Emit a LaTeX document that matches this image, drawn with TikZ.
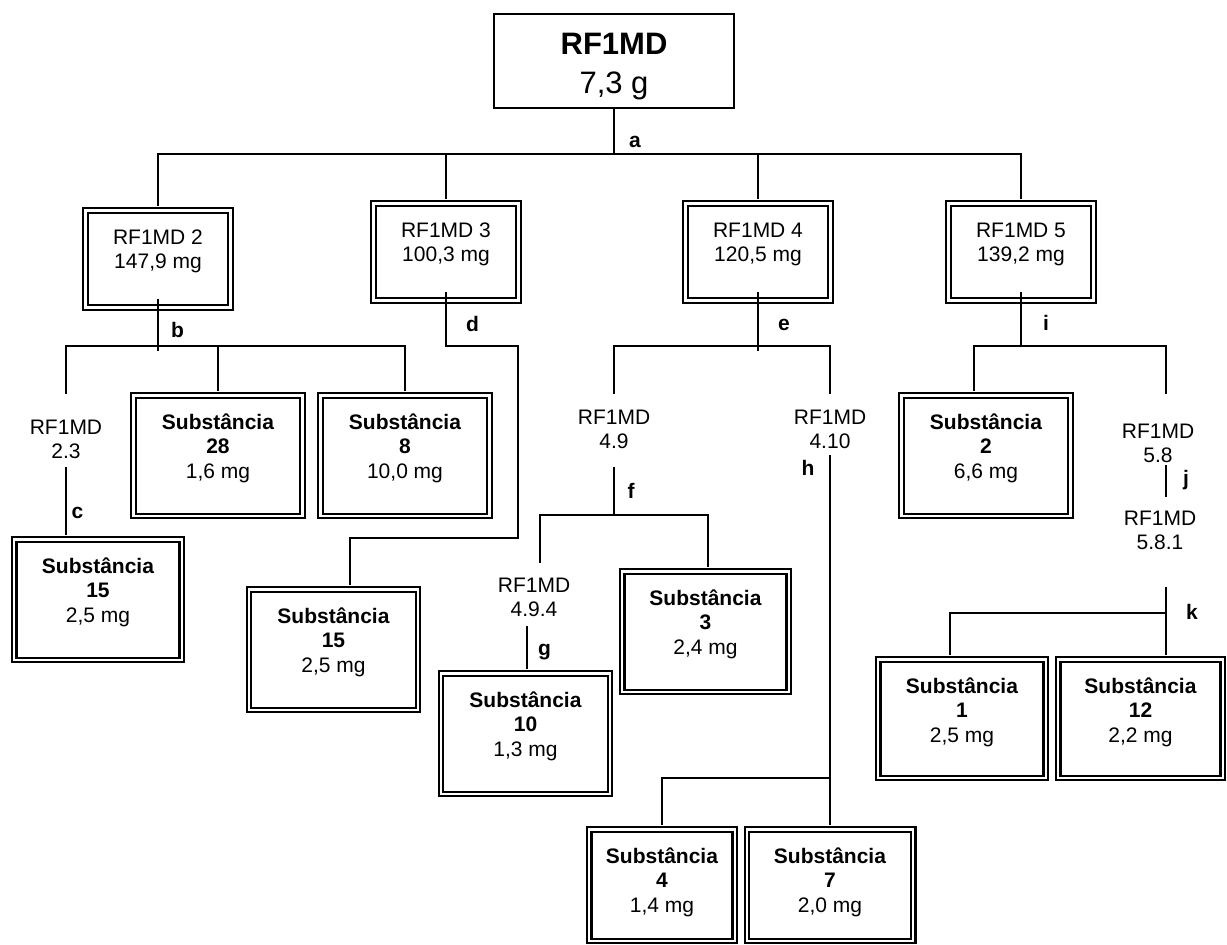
\documentclass[tikz,border=0pt]{standalone}
\usepackage{fontspec}
\setmainfont{Liberation Sans}
\usetikzlibrary{positioning}

\newcommand{\subst}[2]{\textbf{Substância}\\\textbf{#1}\\#2}

\begin{document}
\begin{tikzpicture}[x=1pt, y=-1pt]
		\tikzstyle{every node}=[font=\fontsize{21}{24.5}\selectfont]
		\tikzstyle{rootbox}=[draw, line width=2, inner sep=0, align=center, minimum width=240, text height=79, text depth=15, font=\fontsize{31}{39}\selectfont]
		\tikzstyle{dbox}=[draw, line width=2.2, double, double distance=2.2, inner sep=0, align=center, anchor=north]
		\tikzstyle{rbox}=[dbox, minimum width=145, text height=58.5, text depth=38.5]
		\tikzstyle{sbox}=[dbox, minimum width=169, text height=83, text depth=37.4]
		\tikzstyle{subfr}=[inner sep=0, align=center, anchor=base]
		\tikzstyle{lbl}=[inner sep=0, anchor=base, font=\fontsize{21}{24.5}\selectfont\bfseries]
		\tikzstyle{connect}=[line width=2]
		\tikzstyle{tobox}=[shorten >=3.3]
		\useasboundingbox (0,0) rectangle (1227,945);
		
		\node[rootbox, anchor=north] (root) at (614,13) {\textbf{RF1MD}\\7,3 g};
		
		\node[rbox] (rf2) at (158,209.3) {RF1MD 2\\147,9 mg};
		\node[rbox] (rf3) at (446,202.3) {RF1MD 3\\100,3 mg};
		\node[rbox] (rf4) at (758,202.3) {RF1MD 4\\120,5 mg};
		\node[rbox] (rf5) at (1021,202.3) {RF1MD 5\\139,2 mg};
		
		\node[subfr] (t23) at (66,458.5) {RF1MD\\2.3};
		\node[subfr] (t49) at (614,448.5) {RF1MD\\4.9};
		\node[subfr] (t410) at (830,448.5) {RF1MD\\4.10};
		\node[subfr] (t494) at (534,616.5) {RF1MD\\4.9.4};
		\node[subfr] (t58) at (1158,462.5) {RF1MD\\5.8};
		\node[subfr] (t581) at (1160,549.5) {RF1MD\\5.8.1};
		
		\node[sbox] (s28) at (218,394.3) {\subst{28}{1,6 mg}};
		\node[sbox] (s8) at (405,394.3) {\subst{8}{10,0 mg}};
		\node[sbox, minimum width=167.4] (s15a) at (98,538.3) {\subst{15}{2,5 mg}};
		\node[sbox] (s15b) at (333.5,588.3) {\subst{15}{2,5 mg}};
		\node[sbox] (s10) at (525.5,672.3) {\subst{10}{1,3 mg}};
		\node[sbox, minimum width=166.4] (s3) at (705.5,570.3) {\subst{3}{2,4 mg}};
		\node[sbox, minimum width=145.4, text depth=28.4] (s4) at (662,828.3) {\subst{4}{1,4 mg}};
		\node[sbox, minimum width=166.4, text depth=28.4] (s7) at (830,828.3) {\subst{7}{2,0 mg}};
		\node[sbox] (s2) at (986,394.3) {\subst{2}{6,6 mg}};
		\node[sbox, minimum width=167.4, text depth=35.4] (s1) at (962,658.3) {\subst{1}{2,5 mg}};
		\node[sbox, minimum width=164.4, text depth=35.4] (s12) at (1140.5,658.3) {\subst{12}{2,2 mg}};
		
		% step labels
		\node[lbl] (la) at (635,147) {a};
		\node[lbl] (lb) at (177.5,337) {b};
		\node[lbl] (lc) at (77.5,518) {c};
		\node[lbl] (ld) at (472.5,331) {d};
		\node[lbl] (le) at (784,330) {e};
		\node[lbl] (lf) at (631,498) {f};
		\node[lbl] (lg) at (544.5,655) {g};
		\node[lbl] (lh) at (808,475) {h};
		\node[lbl] (li) at (1046,330) {i};
		\node[lbl] (lj) at (1186,485) {j};
		\node[lbl] (lk) at (1192,619) {k};
		
		% a
		\coordinate (ja) at (614,154);
		\draw[connect] (root) -- (ja);
		\foreach \n in {rf2,rf3,rf4,rf5}
			\draw[connect, tobox] (ja) -| (\n);
		
		% b, c
		\coordinate (jb) at (158,346);
		\draw[connect] ([yshift=10]rf2.south) -- ([yshift=-5]jb);
		\draw[connect, shorten >=25] (jb) -| (t23);
		\draw[connect, tobox] (jb) -| (s28);
		\draw[connect, tobox] (jb) -| (s8);
		\draw[connect, shorten <=8, tobox] (t23.south) -- (t23.south |- s15a.north);
		
		% d
		\coordinate (jd1) at (518,346);
		\coordinate (jd2) at (518,538);
		\draw[connect, tobox] ([yshift=10]rf3.south) |- (jd1) -- (jd2) -| ([xshift=16.5]s15b.north);
		
		% e, f, g, h
		\coordinate (je) at (758,346);
		\draw[connect] ([yshift=10]rf4.south) -- ([yshift=-5]je);
		\draw[connect, shorten >=15] (je) -| (t49);
		\draw[connect, shorten >=15] (je) -| (t410);
		
		\coordinate (jf) at (614,515);
		\draw[connect, shorten <=18] (t49) -- (jf);
		\draw[connect, shorten >=14] (jf) -| ([xshift=6]t494.north);
		\draw[connect, tobox] (jf) -| ([xshift=2.5]s3.north);
		\draw[connect, shorten <=9.5, tobox] ([xshift=-7]t494.south) -- ([xshift=-7]t494.south |- s10.north);
		
		\coordinate (jh) at (830,778);
		\draw[connect, shorten <=6.5] (t410) -- (jh);
		\draw[connect, tobox] (jh) -| (s4);
		\draw[connect, tobox] (jh) -- (s7);
		
		% i, j, k
		\coordinate (ji) at (1021,346);
		\draw[connect] ([yshift=10]rf5.south) -- (ji);
		\draw[connect, tobox] (ji) -| ([xshift=-12]s2.north);
		\draw[connect, shorten >=29] (ji) -| ([xshift=8]t58.north);
		\draw[connect, shorten <=2.5, shorten >=13] ([xshift=8]t58.south) -- ([xshift=6]t581.north);
		
		\coordinate (jk) at (1166,613);
		\draw[connect, shorten <=37, tobox] ([xshift=6]t581.south) -- ([xshift=6]t581.south |- s12.north);
		\draw[connect, tobox] (jk) -| ([xshift=-12]s1.north);
		
\end{tikzpicture}
\end{document}
